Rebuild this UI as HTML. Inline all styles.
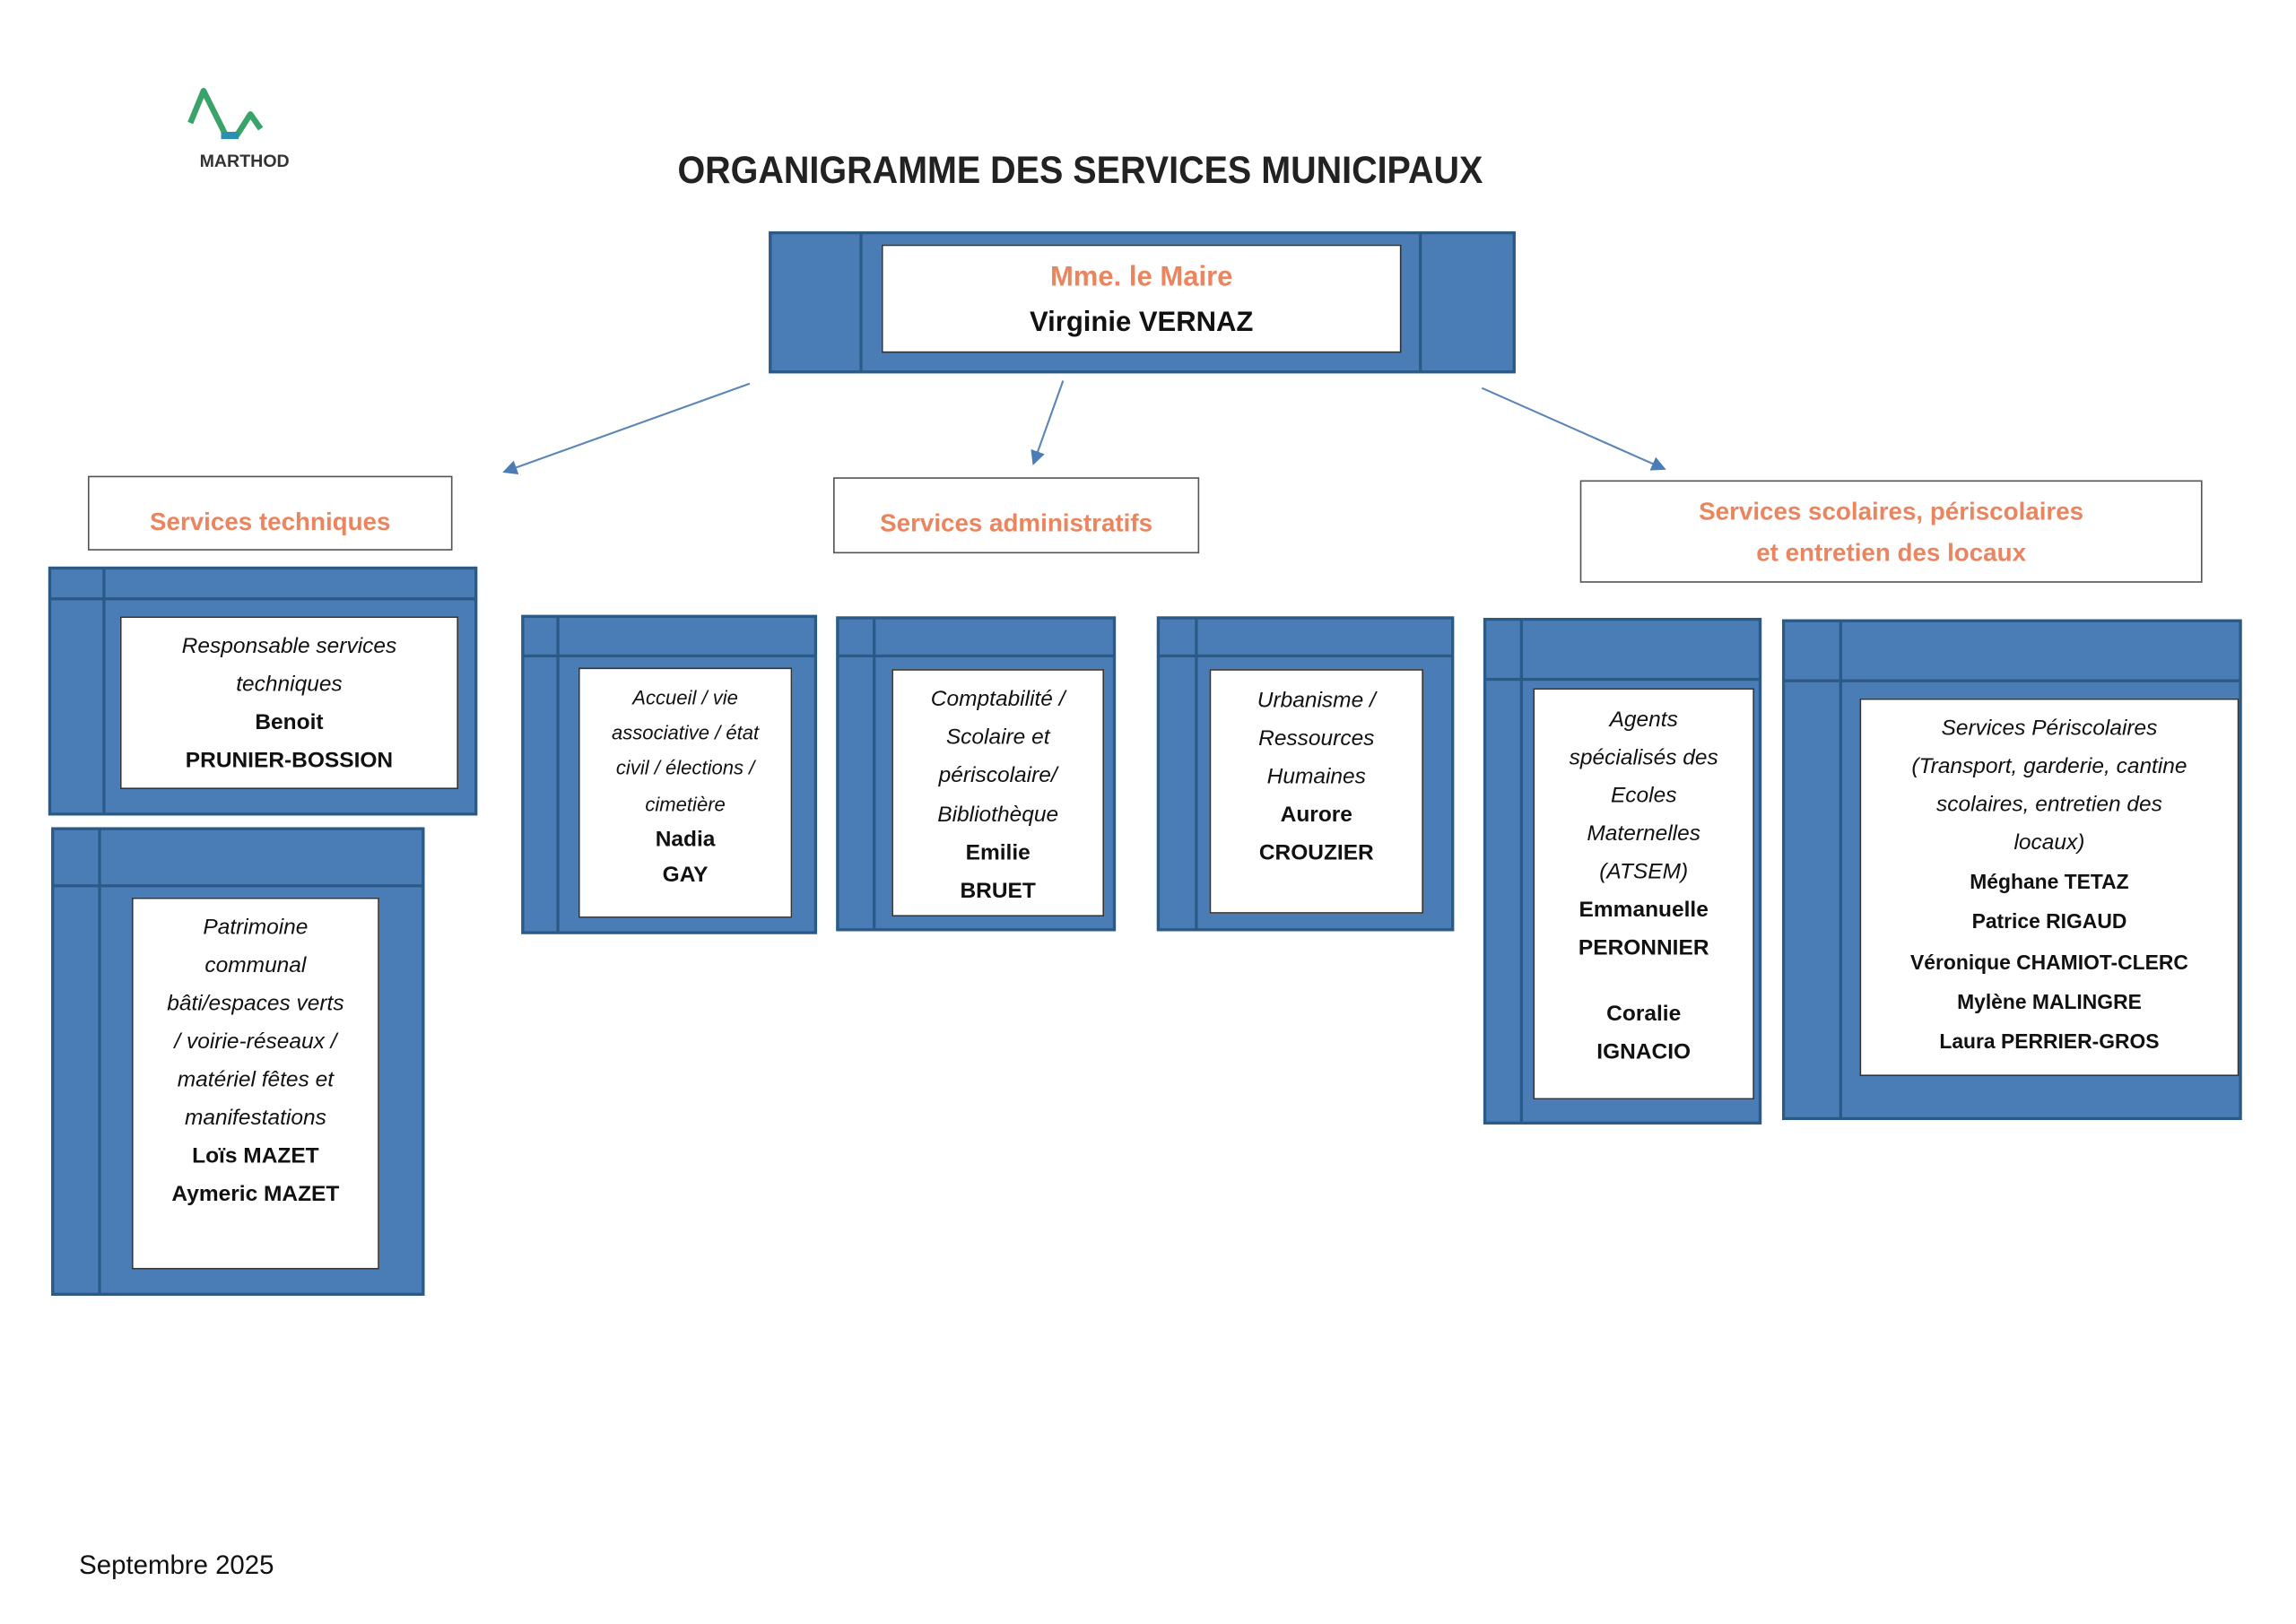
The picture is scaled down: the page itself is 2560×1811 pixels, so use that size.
<!DOCTYPE html>
<html><head><meta charset="utf-8">
<style>
html,body{margin:0;padding:0;background:#fff;}
body{width:2560px;height:1810px;overflow:hidden;position:relative;}
#w{position:absolute;left:0;top:0;width:1568px;height:1109px;transform:scale(1.6327);transform-origin:0 0;font-family:"Liberation Sans",sans-serif;}
.a{position:absolute;}
.blk{position:absolute;background:#4a7db6;border:2px solid #2b5a86;box-sizing:border-box;}
.vl{position:absolute;width:2px;background:#2b5a86;}
.hl{position:absolute;height:2px;background:#2b5a86;}
.in{position:absolute;background:#fff;border:1px solid #333;box-sizing:border-box;}
.hd{position:absolute;background:#fff;border:1.5px solid #555;box-sizing:border-box;color:#ea8560;font-weight:bold;text-align:center;font-size:17px;}
.tx{position:absolute;text-align:center;font-size:15px;line-height:26px;color:#111;}
.tx i{font-style:italic;}
.tx b{font-weight:bold;}
</style></head><body><div id="w">

<!-- logo -->
<svg class="a" style="left:124px;top:56px" width="72" height="48" viewBox="0 0 72 48">
<polyline points="6,28 15,6 30,36 38,36 47,22 54,32" fill="none" stroke="#3aa36a" stroke-width="4" stroke-linejoin="round"/>
<rect x="27" y="34" width="12" height="5" fill="#2a8fb0"/>
</svg>
<div class="a" style="left:132px;top:103px;width:70px;text-align:center;font-size:12px;font-weight:bold;color:#333;">MARTHOD</div>

<div class="a" style="left:400px;top:101px;width:676px;text-align:center;font-size:26px;font-weight:bold;color:#222;"><span style="display:inline-block;transform:scaleX(0.93)">ORGANIGRAMME DES SERVICES MUNICIPAUX</span></div>

<!-- maire -->
<div class="blk" style="left:525px;top:158px;width:510px;height:97px;"></div>
<div class="vl" style="left:587px;top:159px;height:95px;"></div>
<div class="vl" style="left:969px;top:159px;height:95px;"></div>
<div class="in" style="left:602px;top:167px;width:355px;height:74px;"></div>
<div class="a" style="left:602px;top:179px;width:355px;text-align:center;font-size:19px;color:#ea8560;font-weight:bold;">Mme. le Maire</div>
<div class="a" style="left:602px;top:210px;width:355px;text-align:center;font-size:19px;color:#111;font-weight:bold;">Virginie VERNAZ</div>

<!-- arrows -->
<svg class="a" style="left:0;top:0" width="1568" height="400">
<defs><marker id="ar" markerWidth="10" markerHeight="10" refX="8" refY="5" orient="auto" markerUnits="userSpaceOnUse"><path d="M0,0 L10,5 L0,10 z" fill="#4a7db6"/></marker></defs>
<line x1="512" y1="262" x2="345" y2="322" stroke="#5b86b5" stroke-width="1.3" marker-end="url(#ar)"/>
<line x1="726" y1="260" x2="706" y2="316" stroke="#5b86b5" stroke-width="1.3" marker-end="url(#ar)"/>
<line x1="1012" y1="265" x2="1136" y2="320" stroke="#5b86b5" stroke-width="1.3" marker-end="url(#ar)"/>
</svg>

<!-- headers -->
<div class="hd" style="left:60px;top:325px;width:249px;height:51px;line-height:62px;">Services techniques</div>
<div class="hd" style="left:569px;top:326px;width:250px;height:52px;line-height:62px;">Services administratifs</div>
<div class="hd" style="left:1079px;top:328px;width:425px;height:70px;line-height:28px;padding-top:7px;">Services scolaires, périscolaires<br>et entretien des locaux</div>

<!-- responsable -->
<div class="blk" style="left:33px;top:387px;width:293px;height:170px;"></div>
<div class="vl" style="left:70px;top:388px;height:168px;"></div>
<div class="hl" style="left:34px;top:408px;width:291px;"></div>
<div class="in" style="left:82px;top:421px;width:231px;height:118px;"></div>
<div class="tx" style="left:82px;top:429px;width:231px;"><i>Responsable services<br>techniques</i><br><b>Benoit<br>PRUNIER-BOSSION</b></div>

<!-- patrimoine -->
<div class="blk" style="left:35px;top:565px;width:255px;height:320px;"></div>
<div class="vl" style="left:67px;top:566px;height:318px;"></div>
<div class="hl" style="left:36px;top:604px;width:253px;"></div>
<div class="in" style="left:90px;top:613px;width:169px;height:254px;"></div>
<div class="tx" style="left:90px;top:621px;width:169px;"><i>Patrimoine<br>communal<br>bâti/espaces verts<br>/ voirie-réseaux /<br>matériel fêtes et<br>manifestations</i><br><b>Loïs MAZET<br>Aymeric MAZET</b></div>

<!-- accueil -->
<div class="blk" style="left:356px;top:420px;width:202px;height:218px;"></div>
<div class="vl" style="left:380px;top:421px;height:216px;"></div>
<div class="hl" style="left:357px;top:447px;width:200px;"></div>
<div class="in" style="left:395px;top:456px;width:146px;height:171px;"></div>
<div class="tx" style="left:395px;top:465px;width:146px;font-size:13.5px;line-height:24.2px;"><i>Accueil / vie<br>associative / état<br>civil / élections /<br>cimetière</i><br><b style="font-size:15px">Nadia<br>GAY</b></div>

<!-- comptabilite -->
<div class="blk" style="left:571px;top:421px;width:191px;height:215px;"></div>
<div class="vl" style="left:596px;top:422px;height:213px;"></div>
<div class="hl" style="left:572px;top:447px;width:189px;"></div>
<div class="in" style="left:609px;top:457px;width:145px;height:169px;"></div>
<div class="tx" style="left:609px;top:465px;width:145px;line-height:26.2px;"><i>Comptabilité /<br>Scolaire et<br>périscolaire/<br>Bibliothèque</i><br><b>Emilie<br>BRUET</b></div>

<!-- urbanisme -->
<div class="blk" style="left:790px;top:421px;width:203px;height:215px;"></div>
<div class="vl" style="left:816px;top:422px;height:213px;"></div>
<div class="hl" style="left:791px;top:447px;width:201px;"></div>
<div class="in" style="left:826px;top:457px;width:146px;height:167px;"></div>
<div class="tx" style="left:826px;top:466px;width:146px;"><i>Urbanisme /<br>Ressources<br>Humaines</i><br><b>Aurore<br>CROUZIER</b></div>

<!-- agents -->
<div class="blk" style="left:1013px;top:422px;width:190px;height:346px;"></div>
<div class="vl" style="left:1038px;top:423px;height:344px;"></div>
<div class="hl" style="left:1014px;top:463px;width:188px;"></div>
<div class="in" style="left:1047px;top:470px;width:151px;height:281px;"></div>
<div class="tx" style="left:1047px;top:479px;width:151px;"><i>Agents<br>spécialisés des<br>Ecoles<br>Maternelles<br>(ATSEM)</i><br><b>Emmanuelle<br>PERONNIER</b><div style="height:19px"></div><b>Coralie<br>IGNACIO</b></div>

<!-- periscolaires -->
<div class="blk" style="left:1217px;top:423px;width:314px;height:342px;"></div>
<div class="vl" style="left:1256px;top:424px;height:340px;"></div>
<div class="hl" style="left:1218px;top:464px;width:312px;"></div>
<div class="in" style="left:1270px;top:477px;width:259px;height:258px;"></div>
<div class="tx" style="left:1270px;top:485px;width:259px;line-height:26.1px;"><i>Services Périscolaires<br>(Transport, garderie, cantine<br>scolaires, entretien des<br>locaux)</i><br><b style="font-size:14px">Méghane TETAZ<br>Patrice RIGAUD<br>Véronique CHAMIOT-CLERC<br>Mylène MALINGRE<br>Laura PERRIER-GROS</b></div>

<div class="a" style="left:54px;top:1059px;font-size:18px;color:#111;">Septembre 2025</div>

</div></body></html>
